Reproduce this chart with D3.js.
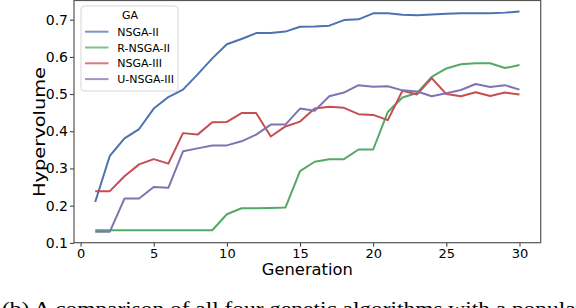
<!DOCTYPE html>
<html>
<head>
<meta charset="utf-8">
<script src="https://cdn.jsdelivr.net/npm/d3@7"></script>
<style>
  body { margin: 0; background: #fff; }
  svg { display: block; }
  text { font-family: "DejaVu Sans", sans-serif; fill: #000; }
</style>
</head>
<body>
<script>
// generations on the x axis
var generations = [1, 2, 3, 4, 5, 6, 7, 8, 9, 10, 11, 12, 13, 14, 15,
                   16, 17, 18, 19, 20, 21, 22, 23, 24, 25, 26, 27, 28, 29, 30];

var seriesNames = ["NSGA-II", "R-NSGA-II", "NSGA-III", "U-NSGA-III"];
var seriesColors = ["#4c72b0", "#55a868", "#c44e52", "#8172b2"];

var nsga2 = [0.210, 0.334, 0.381, 0.406, 0.461, 0.492, 0.512, 0.553, 0.596, 0.634,
             0.648, 0.664, 0.664, 0.668, 0.681, 0.682, 0.684, 0.699, 0.701, 0.717,
             0.717, 0.713, 0.712, 0.714, 0.716, 0.717, 0.717, 0.717, 0.719, 0.722];
var rnsga2 = [0.134, 0.134, 0.134, 0.134, 0.134, 0.134, 0.134, 0.134, 0.134, 0.177,
              0.193, 0.193, 0.194, 0.195, 0.293, 0.318, 0.325, 0.325, 0.351, 0.351,
              0.452, 0.491, 0.503, 0.546, 0.569, 0.580, 0.583, 0.583, 0.570, 0.578];
var nsga3 = [0.239, 0.239, 0.279, 0.311, 0.325, 0.313, 0.395, 0.391, 0.424, 0.425,
             0.449, 0.449, 0.386, 0.413, 0.426, 0.461, 0.466, 0.463, 0.446, 0.444,
             0.430, 0.509, 0.499, 0.543, 0.500, 0.494, 0.505, 0.495, 0.504, 0.499];
var unsga3 = [0.130, 0.130, 0.219, 0.219, 0.250, 0.248, 0.346, 0.354, 0.362, 0.362,
              0.373, 0.391, 0.418, 0.418, 0.461, 0.455, 0.494, 0.504, 0.524, 0.520,
              0.521, 0.510, 0.507, 0.494, 0.502, 0.511, 0.527, 0.519, 0.524, 0.512];

var xTicks = [0, 5, 10, 15, 20, 25, 30];
var yTicks = [0.1, 0.2, 0.3, 0.4, 0.5, 0.6, 0.7];

var allSeries = [nsga2, rnsga2, nsga3, unsga3];

var width = 576, height = 308;
var plotL = 74, plotR = 540.7, plotT = 0.5, plotB = 242.7;

var svg = d3.select("body").append("svg")
    .attr("width", width)
    .attr("height", height);

// matplotlib style 5% margins
var xPad = (d3.max(generations) - d3.min(generations)) * 0.05;
var allVals = d3.merge(allSeries);
var yPad = (d3.max(allVals) - d3.min(allVals)) * 0.05;

var x = d3.scaleLinear()
    .domain([d3.min(generations) - xPad, d3.max(generations) + xPad])
    .range([plotL, plotR]);
var y = d3.scaleLinear()
    .domain([d3.min(allVals) - yPad, d3.max(allVals) + yPad])
    .range([plotB, plotT]);

var xAxis = svg.append("g")
    .attr("transform", "translate(0," + plotB + ")")
    .call(d3.axisBottom(x).tickValues(xTicks).tickSize(4).tickPadding(2));
xAxis.select(".domain").remove();
xAxis.selectAll("line").attr("stroke", "#333");
xAxis.selectAll("text")
    .style("font-family", "DejaVu Sans")
    .style("font-size", "13px")
    .attr("fill", "#000");

var yAxis = svg.append("g")
    .attr("transform", "translate(" + plotL + ",0)")
    .call(d3.axisLeft(y).tickValues(yTicks).tickFormat(d3.format(".1f")).tickSize(4).tickPadding(2));
yAxis.select(".domain").remove();
yAxis.selectAll("line").attr("stroke", "#333");
yAxis.selectAll("text")
    .style("font-family", "DejaVu Sans")
    .style("font-size", "14px")
    .attr("fill", "#000");

var line = d3.line()
    .x(function (d, i) { return x(generations[i]); })
    .y(function (d) { return y(d); });

svg.append("g").selectAll("path")
    .data(allSeries)
    .enter().append("path")
    .attr("d", line)
    .attr("fill", "none")
    .attr("stroke", function (d, i) { return seriesColors[i]; })
    .attr("stroke-width", 2)
    .attr("stroke-linejoin", "round");

// frame
svg.append("rect")
    .attr("x", plotL)
    .attr("y", plotT)
    .attr("width", plotR - plotL)
    .attr("height", plotB - plotT)
    .attr("fill", "none")
    .attr("stroke", "#555")
    .attr("stroke-width", 1.2);

// legend
var legend = svg.append("g");
legend.append("rect")
    .attr("x", 81).attr("y", 6)
    .attr("width", 97).attr("height", 85)
    .attr("rx", 3)
    .attr("fill", "#fff").attr("fill-opacity", 0.85)
    .attr("stroke", "#d6d6d6");
legend.append("text")
    .attr("x", 130).attr("y", 18.5)
    .attr("text-anchor", "middle")
    .style("font-size", "11px")
    .text("GA");
var rows = legend.selectAll("g.row")
    .data(seriesNames)
    .enter().append("g")
    .attr("transform", function (d, i) { return "translate(0," + (31.7 + i * 15.8) + ")"; });
rows.append("line")
    .attr("x1", 85).attr("x2", 108.5)
    .attr("stroke", function (d, i) { return seriesColors[i]; })
    .attr("stroke-opacity", 0.75)
    .attr("stroke-width", 2);
rows.append("text")
    .attr("x", 117.3).attr("y", 4)
    .style("font-size", "11px")
    .text(function (d) { return d; });

// axis labels
svg.append("text")
    .attr("x", (plotL + plotR) / 2).attr("y", 275)
    .attr("text-anchor", "middle")
    .attr("textLength", 91)
    .attr("lengthAdjust", "spacingAndGlyphs")
    .style("font-size", "15px")
    .text("Generation");

svg.append("text")
    .attr("transform", "translate(45,132) rotate(-90)")
    .attr("text-anchor", "middle")
    .attr("textLength", 130)
    .attr("lengthAdjust", "spacingAndGlyphs")
    .style("font-size", "16px")
    .text("Hypervolume");

// caption (cut off by the window)
svg.append("text")
    .attr("x", 2).attr("y", 315)
    .attr("textLength", 580)
    .attr("lengthAdjust", "spacingAndGlyphs")
    .style("font-family", "Liberation Serif, serif")
    .style("font-size", "19px")
    .text("(b) A comparison of all four genetic algorithms with a populat");
</script>
</body>
</html>
